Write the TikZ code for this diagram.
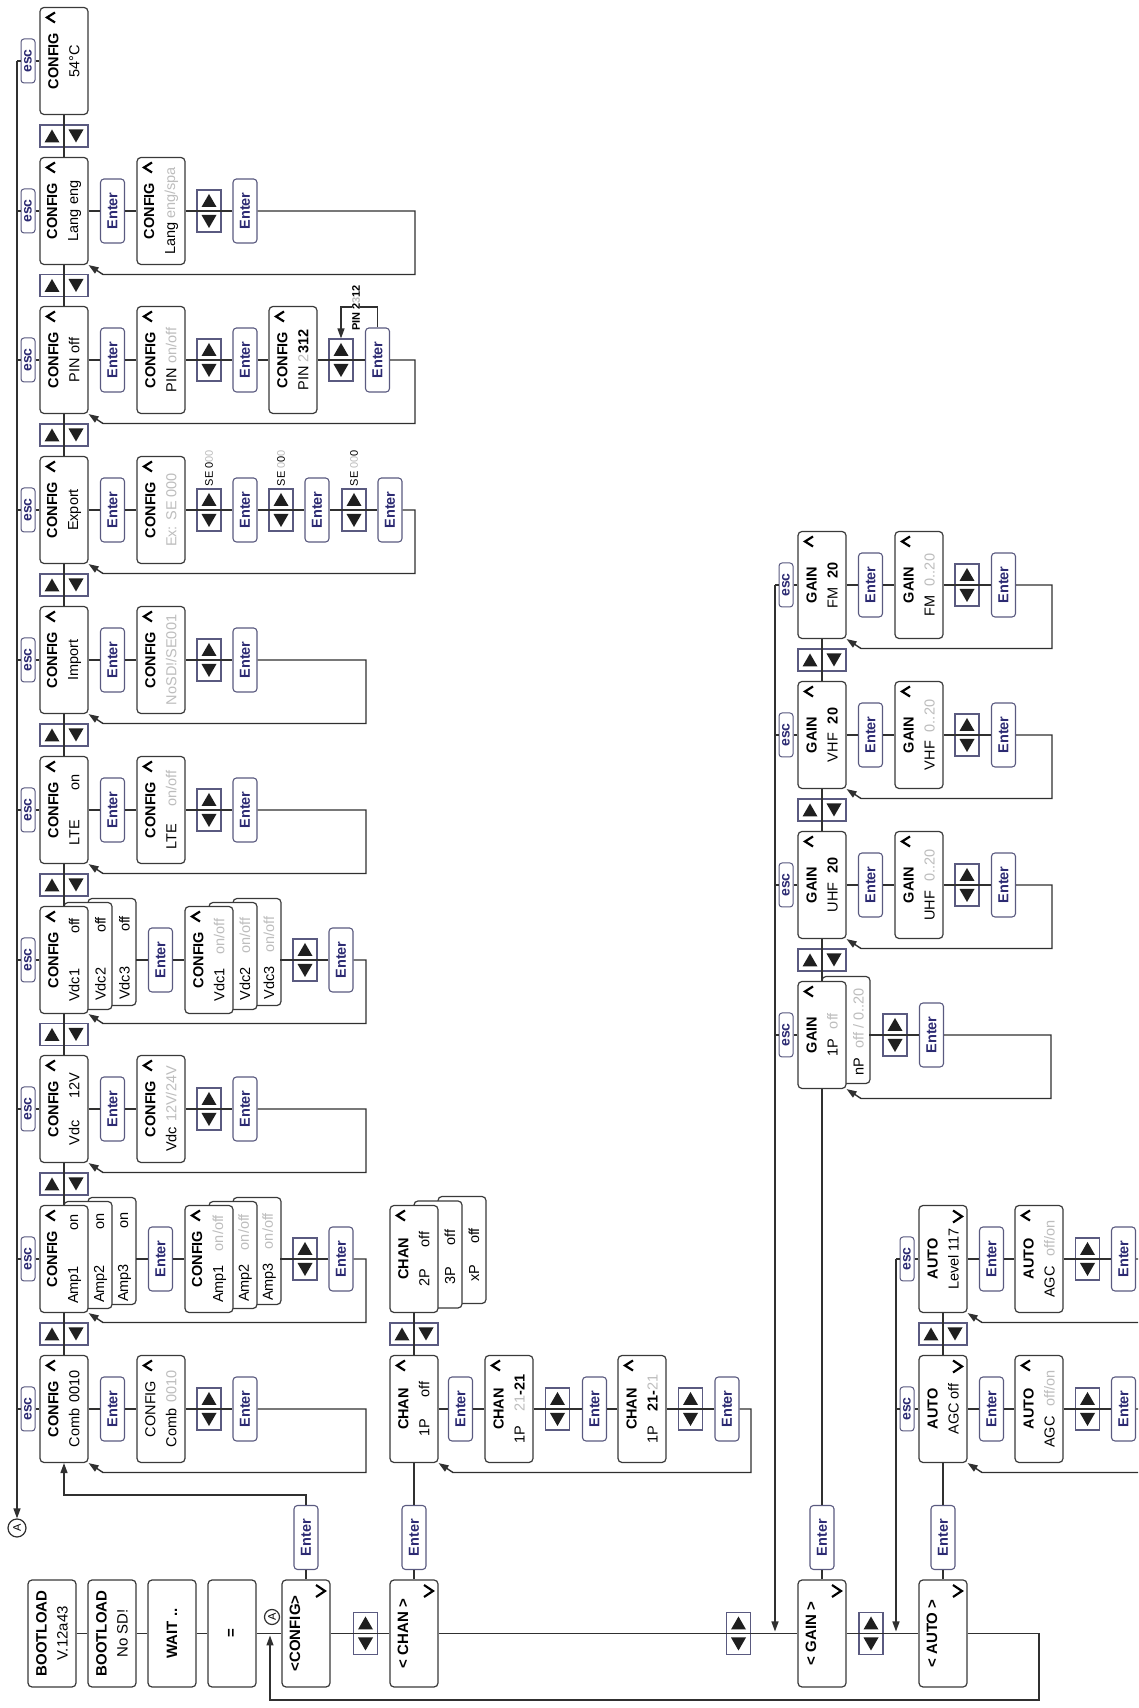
\documentclass[tikz,border=0pt]{standalone}
\usepackage{fontspec}
\setmainfont{Liberation Sans}
\usetikzlibrary{arrows.meta}
\definecolor{lc}{HTML}{303030}
\definecolor{bc}{HTML}{3A3A3A}
\definecolor{nav}{HTML}{2C2A72}
\definecolor{eb}{HTML}{5A5A80}
\definecolor{gv}{HTML}{BDBDBD}
\newcommand{\mgrey}[1]{\textcolor{gv}{#1}}
\newcommand{\mtri}[3]{\fill[black!88] ({#2-6.5*(#1)},{-(#3)+7.5}) -- ({#2+6.5*(#1)},{-(#3)}) -- ({#2-6.5*(#1)},{-(#3)-7.5}) -- cycle;}
\newcommand{\udrow}[3]{\node[udb,minimum width=22pt,minimum height=48pt] (#1) at (#2,-#3) {};\mtri{1}{#2}{#3-12}\mtri{-1}{#2}{#3+12}}
\newcommand{\udcol}[3]{\node[udb,minimum width=42pt,minimum height=24pt] (#1) at (#2,-#3) {};\mtri{-1}{#2-10.5}{#3}\mtri{1}{#2+10.5}{#3}}
\newcommand{\mchevup}[2]{\draw[chev] ({#1-15},{-(#2)-15}) -- ({#1-10},{-(#2)-7}) -- ({#1-5},{-(#2)-15});}
\newcommand{\mchevdn}[2]{\draw[chev] ({#1-17},{-(#2)+14}) -- ({#1-11},{-(#2)+5}) -- ({#1-5},{-(#2)+14});}
\newcommand{\mret}[5]{\draw[arr] (#1.south) -- (#3,-#4) -- ({#3-63.5},-#4) -- ({#3-63.5},{-(#5)-15}) -- (#2.south west);}
\newcommand{\escon}[4]{\node[escb] (#1) at (#3,{-(#4)+12}) {esc};\draw[conn] (#1.south) -- (#2.north);\draw[conn] (#1.north) -- ++(0,4);}
\newcommand{\simplechain}[4]{%
 \node[entb] (#1ea) at (#2,-112.5) {Enter};
 \node[disp] (#1s) at (#2,-161) {#3};
 \mchevup{#2+53.5}{137}
 \udcol{#1ud}{#2}{209}
 \node[entb] (#1eb) at (#2,-245) {Enter};
 \draw[conn] (#1.south) -- (#1ea.north);
 \draw[conn] (#1ea.south) -- (#1s.north);
 \draw[conn] (#1s.south) -- (#1eb.north);
 \mret{#1eb}{#1}{#2}{#4}{88}}
\newcommand{\stackchain}[5]{%
 \node[entb] (#1ea) at (#2,-160.5) {Enter};
 \node[disp] (#1sc) at ({#2+8},-257) {};
 \node[disp] (#1sb) at ({#2+4},-233) {};
 \node[disp] (#1s) at (#2,-209) {#3};
 \node[txt] (#1sbt) at ({#2+1},-245) {#4};
 \node[txt] (#1sct) at ({#2+2},-269) {#5};
 \mchevup{#2+53.5}{185}
 \udcol{#1ud}{#2}{305}
 \node[entb] (#1eb) at (#2,-341) {Enter};
 \draw[conn] (#1ea.north) -- ++(0,12);
 \draw[conn] (#1ea.south) -- (#1s.north);
 \draw[conn] (#1eb.north) -- ++(0,48);
 \mret{#1eb}{#1}{#2}{366}{88}}
\newcommand{\gainchain}[3]{%
 \node[entb] (#1ea) at (#2,-870.5) {Enter};
 \node[disp] (#1s) at (#2,-919) {#3};
 \mchevup{#2+53.5}{895}
 \udcol{#1u}{#2}{967}
 \node[entb] (#1eb) at (#2,-1003.5) {Enter};
 \draw[conn] (#1.south) -- (#1ea.north);
 \draw[conn] (#1ea.south) -- (#1s.north);
 \draw[conn] (#1s.south) -- (#1eb.north);
 \mret{#1eb}{#1}{#2}{1052}{846}}
\newcommand{\autochain}[2]{%
 \node[entb] (#1ea) at (#2,-991.5) {Enter};
 \node[disp] (#1s) at (#2,-1039) {\textbf{AUTO}\\AGC\hspace{10pt}\mgrey{off/on}};
 \mchevup{#2+53.5}{1015}
 \udcol{#1u}{#2}{1087.5}
 \node[entb] (#1eb) at (#2,-1123.5) {Enter};
 \draw[conn] (#1.south) -- (#1ea.north);
 \draw[conn] (#1ea.south) -- (#1s.north);
 \draw[conn] (#1s.south) -- (#1eb.north);
 \mret{#1eb}{#1}{#2}{1150}{967}}
\tikzset{
 conn/.style={draw=lc, line width=1.4pt},
 arr/.style={conn, -{Triangle[length=10pt,width=7pt]}},
 disp/.style={draw=bc, line width=1.2pt, rounded corners=4pt, fill=white, minimum width=107pt, minimum height=48pt, inner sep=0pt, align=center, font=\fontsize{14.5}{21}\selectfont},
 entb/.style={draw=eb, line width=1.1pt, rounded corners=3.5pt, fill=white, minimum width=64pt, minimum height=24pt, inner sep=0pt, text=nav, font=\bfseries\fontsize{14.5}{15}\selectfont},
 escb/.style={draw=eb, line width=1pt, rounded corners=3pt, fill=white, minimum width=44pt, minimum height=14pt, inner sep=0pt, text=nav, font=\bfseries\fontsize{14}{14}\selectfont},
 udb/.style={draw=eb, line width=1.1pt, fill=white, inner sep=0pt},
 txt/.style={inner sep=0pt, font=\fontsize{14.5}{17}\selectfont},
 mtxt/.style={inner sep=0pt, font=\bfseries\fontsize{15}{17}\selectfont},
 lbl/.style={inner sep=0.5pt, font=\fontsize{11}{12}\selectfont},
 chev/.style={draw=black, line width=2.2pt, line join=miter},
 circA/.style={circle, draw=lc, line width=1.2pt, fill=white, inner sep=0pt, font=\fontsize{11}{11}\selectfont},
}
\begin{document}
\begin{tikzpicture}[x=1pt,y=1pt]
\useasboundingbox (0,0) rectangle (1138,1708);
\fill[white] (0,0) rectangle (1138,1708);
\clip (0,0) rectangle (1138,1708);
\begin{scope}[rotate=90, transform shape]
% ---------------- main column
\node[disp, font=\fontsize{15}{21}\selectfont] (boot1) at (74.5,-52) {\textbf{BOOTLOAD}\\V.12a43};
\node[disp, font=\fontsize{15}{21}\selectfont] (boot2) at (74.5,-112) {\textbf{BOOTLOAD}\\No SD!};
\node[disp, font=\bfseries\fontsize{15}{18}\selectfont] (waitb) at (74.5,-172) {WAIT ..};
\node[disp, font=\bfseries\fontsize{15}{18}\selectfont] (eqb) at (74.5,-232) {=};
\node[disp] (mcfg) at (74.5,-306) {};
\node[mtxt] (mcfgt) at (74.5,-295) {<CONFIG>};
\node[disp] (mchan) at (74.5,-414) {};
\node[mtxt] (mchant) at (74.5,-403) {< CHAN >};
\node[disp] (mgain) at (74.5,-822) {};
\node[mtxt] (mgaint) at (74.5,-811) {< GAIN >};
\node[disp] (mauto) at (74.5,-943) {};
\node[mtxt] (mautot) at (74.5,-932) {< AUTO >};
\mchevdn{128}{330}\mchevdn{128}{438}\mchevdn{128}{846}\mchevdn{128}{967}
\udcol{mud1}{74.5}{365.5}
\udcol{mud2}{74.5}{738.5}
\udcol{mud3}{74.5}{871}
\node[circA, minimum size=15pt] (circb) at (91,-272) {A};
\draw[conn] (boot1.south) -- (boot2.north);
\draw[conn] (boot2.south) -- (waitb.north);
\draw[conn] (waitb.south) -- (eqb.north);
\draw[conn] (eqb.south) -- (mcfg.north);
\draw[conn] (mcfg.south) -- (mchan.north);
\draw[conn] (mchan.south) -- (mgain.north);
\draw[conn] (mgain.south) -- (mauto.north);
\draw[arr] (mauto.south) -- (74.5,-1039) -- (8,-1039) -- (8,-270) -- (72.5,-270);
% ---------------- CONFIG row
\node[disp] (cfga) at (299,-64) {\textbf{CONFIG}\\Comb\hspace{6pt}0010};
\node[disp] (cfgb3) at (457,-112) {};
\node[disp] (cfgb2) at (453,-88) {};
\node[disp] (cfgb) at (449,-64) {\textbf{CONFIG}\\Amp1\hspace{36pt}on};
\node[txt] (cfgb2t) at (450,-100.5) {Amp2\hspace{36pt}on};
\node[txt] (cfgb3t) at (451,-124.5) {Amp3\hspace{36pt}on};
\node[disp] (cfgc) at (599,-64) {\textbf{CONFIG}\\Vdc\hspace{22pt}12V};
\node[disp] (cfgd3) at (756,-112) {};
\node[disp] (cfgd2) at (752,-88) {};
\node[disp] (cfgd) at (748,-64) {\textbf{CONFIG}\\Vdc1\hspace{35pt}off};
\node[txt] (cfgd2t) at (749,-100.5) {Vdc2\hspace{35pt}off};
\node[txt] (cfgd3t) at (750,-124.5) {Vdc3\hspace{35pt}off};
\node[disp] (cfge) at (898,-64) {\textbf{CONFIG}\\LTE\hspace{30pt}on};
\node[disp] (cfgf) at (1048,-64) {\textbf{CONFIG}\\Import};
\node[disp] (cfgg) at (1198,-64) {\textbf{CONFIG}\\Export};
\node[disp] (cfgh) at (1348,-64) {\textbf{CONFIG}\\PIN off};
\node[disp] (cfgi) at (1497,-64) {\textbf{CONFIG}\\Lang eng};
\node[disp] (cfgj) at (1647,-64) {\textbf{CONFIG}\\54°C};
\mchevup{352.5}{40}\mchevup{502.5}{40}\mchevup{652.5}{40}\mchevup{801.5}{40}\mchevup{951.5}{40}
\mchevup{1101.5}{40}\mchevup{1251.5}{40}\mchevup{1401.5}{40}\mchevup{1550.5}{40}\mchevup{1700.5}{40}
\udrow{rba}{374}{64}\udrow{rbb}{524}{64}\udrow{rbc}{673.5}{64}\udrow{rbd}{823}{64}\udrow{rbe}{973}{64}
\udrow{rbf}{1123}{64}\udrow{rbg}{1273}{64}\udrow{rbh}{1422.5}{64}\udrow{rbi}{1572}{64}
\draw[conn] (cfga.east) -- (cfgb.west);
\draw[conn] (cfgb.east) -- (cfgc.west);
\draw[conn] (cfgc.east) -- (cfgd.west);
\draw[conn] (cfgd.east) -- (cfge.west);
\draw[conn] (cfge.east) -- (cfgf.west);
\draw[conn] (cfgf.east) -- (cfgg.west);
\draw[conn] (cfgg.east) -- (cfgh.west);
\draw[conn] (cfgh.east) -- (cfgi.west);
\draw[conn] (cfgi.east) -- (cfgj.west);
\escon{esca}{cfga}{299}{40}\escon{escb}{cfgb}{449}{40}\escon{escc}{cfgc}{599}{40}
\escon{escd}{cfgd}{748}{40}\escon{esce}{cfge}{898}{40}\escon{escf}{cfgf}{1048}{40}
\escon{escg}{cfgg}{1198}{40}\escon{esch}{cfgh}{1348}{40}\escon{esci}{cfgi}{1497}{40}
\escon{escj}{cfgj}{1647}{40}
\node[circA, minimum size=18pt] (circa) at (180,-17) {A};
\draw[arr] (1647,-17) -- (circa.east);
% <CONFIG> enter
\node[entb] (mcfge) at (170.5,-306) {Enter};
\draw[conn] (mcfg.east) -- (mcfge.west);
\draw[arr] (mcfge.east) -- (213,-306) -- (213,-64) -- (cfga.west);
% sub chains
\simplechain{cfga}{299}{CONFIG\\Comb\hspace{6pt}\mgrey{0010}}{366}
\stackchain{cfgb}{449}{\textbf{CONFIG}\\Amp1\hspace{14pt}\mgrey{on/off}}{Amp2\hspace{14pt}\mgrey{on/off}}{Amp3\hspace{14pt}\mgrey{on/off}}
\simplechain{cfgc}{599}{\textbf{CONFIG}\\Vdc\hspace{5pt}\mgrey{12V/24V}}{366}
\stackchain{cfgd}{748}{\textbf{CONFIG}\\Vdc1\hspace{14pt}\mgrey{on/off}}{Vdc2\hspace{14pt}\mgrey{on/off}}{Vdc3\hspace{14pt}\mgrey{on/off}}
\simplechain{cfge}{898}{\textbf{CONFIG}\\LTE\hspace{18pt}\mgrey{on/off}}{366}
\simplechain{cfgf}{1048}{\textbf{CONFIG}\\\mgrey{NoSD!/SE001}}{366}
\simplechain{cfgi}{1497}{\textbf{CONFIG}\\Lang \mgrey{eng/spa}}{415}
% Export
\node[entb] (cfggea) at (1198,-112.5) {Enter};
\node[disp] (cfggs) at (1198,-161) {\textbf{CONFIG}\\\mgrey{Ex: SE 000}};
\mchevup{1251.5}{137}
\udcol{cfggua}{1198}{209}
\node[entb] (cfggeb) at (1198,-245) {Enter};
\udcol{cfggub}{1198}{281}
\node[entb] (cfggec) at (1198,-317) {Enter};
\udcol{cfgguc}{1198}{354}
\node[entb] (cfgged) at (1198,-390) {Enter};
\node[lbl, anchor=west] (sea) at (1221,-209) {SE 0\mgrey{00}};
\node[lbl, anchor=west] (seb) at (1221,-281) {SE \mgrey{0}0\mgrey{0}};
\node[lbl, anchor=west] (sec) at (1221,-354) {SE \mgrey{00}0};
\draw[conn] (cfgg.south) -- (cfggea.north);
\draw[conn] (cfggea.south) -- (cfggs.north);
\draw[conn] (cfggs.south) -- (cfggeb.north);
\draw[conn] (cfggeb.south) -- (cfggec.north);
\draw[conn] (cfggec.south) -- (cfgged.north);
\mret{cfgged}{cfgg}{1198}{415}{88}
% PIN
\node[entb] (cfghea) at (1348,-112.5) {Enter};
\node[disp] (cfghs) at (1348,-161) {\textbf{CONFIG}\\PIN \mgrey{on/off}};
\mchevup{1401.5}{137}
\udcol{cfghua}{1348}{209}
\node[entb] (cfgheb) at (1348,-245) {Enter};
\node[disp] (cfghs2) at (1348,-293) {\textbf{CONFIG}\\PIN \mgrey{2}\textbf{312}};
\mchevup{1401.5}{269}
\udcol{cfghub}{1348}{341}
\node[entb] (cfghec) at (1348,-377.5) {Enter};
\draw[conn] (cfgh.south) -- (cfghea.north);
\draw[conn] (cfghea.south) -- (cfghs.north);
\draw[conn] (cfghs.south) -- (cfgheb.north);
\draw[conn] (cfgheb.south) -- (cfghs2.north);
\draw[conn] (cfghs2.south) -- (cfghec.north);
\mret{cfghec}{cfgh}{1348}{415}{88}
\draw[arr] (cfghec.east) -- (1401,-377.5) -- (1401,-341) -- (cfghub.east);
\node[lbl, fill=white, font=\bfseries\fontsize{11}{12}\selectfont] (pinl) at (1400,-356) {PIN 2\mgrey{3}12};
% ---------------- CHAN row
\node[entb] (mche) at (170.5,-414) {Enter};
\node[disp] (cha) at (299,-414) {\textbf{CHAN}\\1P\hspace{21pt}off};
\udrow{chrb}{374}{414}
\node[disp] (chb3) at (458,-462) {};
\node[disp] (chb2) at (453.5,-438) {};
\node[disp] (chb) at (449,-414) {\textbf{CHAN}\\2P\hspace{21pt}off};
\node[txt] (chb2t) at (451,-450) {3P\hspace{21pt}off};
\node[txt] (chb3t) at (453,-474) {xP\hspace{21pt}off};
\mchevup{352.5}{390}\mchevup{502.5}{390}
\node[entb] (chea) at (299,-460.5) {Enter};
\node[disp] (chs1) at (299,-509) {\textbf{CHAN}\\1P\hspace{14pt}\mgrey{21}\textbf{-21}};
\mchevup{352.5}{485}
\udcol{chua}{299}{557.5}
\node[entb] (cheb) at (299,-594.5) {Enter};
\node[disp] (chs2) at (299,-642) {\textbf{CHAN}\\1P\hspace{14pt}\textbf{21-}\mgrey{21}};
\mchevup{352.5}{618}
\udcol{chub}{299}{690.5}
\node[entb] (chec) at (299,-727) {Enter};
\draw[conn] (mchan.east) -- (mche.west);
\draw[conn] (mche.east) -- (cha.west);
\draw[conn] (cha.east) -- (chb.west);
\draw[conn] (cha.south) -- (chea.north);
\draw[conn] (chea.south) -- (chs1.north);
\draw[conn] (chs1.south) -- (cheb.north);
\draw[conn] (cheb.south) -- (chs2.north);
\draw[conn] (chs2.south) -- (chec.north);
\mret{chec}{cha}{299}{751}{438}
% ---------------- GAIN row
\node[entb] (mge) at (170.5,-822) {Enter};
\node[disp] (g1b) at (678,-846) {};
\node[disp] (g1) at (673,-822) {\textbf{GAIN}\\1P\hspace{10pt}\mgrey{off}};
\node[txt] (g1bt) at (676,-858.5) {nP\hspace{10pt}\mgrey{off / 0..20}};
\node[disp] (g2) at (823,-822) {\textbf{GAIN}\\UHF\hspace{9pt}\textbf{20}};
\node[disp] (g3) at (973,-822) {\textbf{GAIN}\\VHF\hspace{9pt}\textbf{20}};
\node[disp] (g4) at (1123,-822) {\textbf{GAIN}\\FM\hspace{9pt}\textbf{20}};
\mchevup{726.5}{798}\mchevup{876.5}{798}\mchevup{1026.5}{798}\mchevup{1176.5}{798}
\udrow{grba}{748}{822}\udrow{grbb}{898}{822}\udrow{grbc}{1048}{822}
\draw[conn] (mgain.east) -- (mge.west);
\draw[conn] (mge.east) -- (g1.west);
\draw[conn] (g1.east) -- (g2.west);
\draw[conn] (g2.east) -- (g3.west);
\draw[conn] (g3.east) -- (g4.west);
\escon{gesca}{g1}{673}{798}\escon{gescb}{g2}{823}{798}\escon{gescc}{g3}{973}{798}\escon{gescd}{g4}{1123}{798}
\draw[arr] (1123,-775) -- (76.5,-775);
\udcol{g1u}{673}{895}
\node[entb] (g1e) at (673,-931.5) {Enter};
\draw[conn] (g1e.north) -- ++(0,49.5);
\mret{g1e}{g1}{673}{1051}{846}
\gainchain{g2}{823}{\textbf{GAIN}\\UHF\hspace{9pt}\mgrey{0..20}}
\gainchain{g3}{973}{\textbf{GAIN}\\VHF\hspace{9pt}\mgrey{0..20}}
\gainchain{g4}{1123}{\textbf{GAIN}\\FM\hspace{9pt}\mgrey{0..20}}
% ---------------- AUTO row
\node[entb] (mae) at (170.5,-943) {Enter};
\node[disp] (au1) at (299,-943) {\textbf{AUTO}\\AGC off};
\node[disp] (au2) at (449,-943) {\textbf{AUTO}\\Level 117};
\mchevdn{352.5}{967}\mchevdn{502.5}{967}
\udrow{aurb}{374}{943}
\draw[conn] (mauto.east) -- (mae.west);
\draw[conn] (mae.east) -- (au1.west);
\draw[conn] (au1.east) -- (au2.west);
\escon{ausa}{au1}{299}{919}\escon{ausb}{au2}{449}{919}
\draw[arr] (449,-896) -- (76.5,-896);
\autochain{au1}{299}
\autochain{au2}{449}
\end{scope}
\end{tikzpicture}
\end{document}
